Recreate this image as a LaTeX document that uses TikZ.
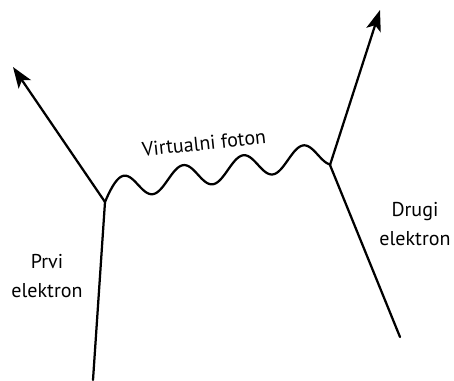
\documentclass[tikz,border=0pt]{standalone}
\usepackage{fontspec}
\setmainfont{PT Sans}
\usetikzlibrary{arrows.meta}
\begin{document}
\begin{tikzpicture}[x=0.02cm,y=0.02cm,
  line/.style={line width=0.045cm, line cap=round, line join=round},
  arr/.style={line, -{Stealth[length=0.42cm,width=0.3cm,inset=0.1cm]}},
  lbl/.style={font=\fontsize{11.4}{16}\selectfont, align=center, inner sep=0pt}]
\useasboundingbox (0,0) rectangle (454,380);
% vertices and free ends
\coordinate (v1) at (105,178);
\coordinate (v2) at (330,215);
\coordinate (b1) at (93,0);
\coordinate (t1) at (13,313);
\coordinate (b2) at (400,43);
\coordinate (t2) at (380,370);
% electron lines
\draw[line] (b1) -- (v1);
\draw[arr] (v1) -- (t1);
\draw[line] (v2) -- (b2);
\draw[arr] (v2) -- (t2);
% virtual photon
\draw[line] (v1) -- plot[domain=105:330, samples=180, smooth]
  (\x, {178 + 37*(\x-105)/225 + 12 + 12*cos(6*(\x-123)) - 8.3*exp(-(\x-105)/8)}) -- (v2);
% labels
\node[lbl] (lp) at (47,104) {Prvi\\elektron};
\node[lbl] (ld) at (415,156) {Drugi\\elektron};
\node[lbl, rotate=6] (lf) at (204,237) {Virtualni foton};
\end{tikzpicture}
\end{document}
